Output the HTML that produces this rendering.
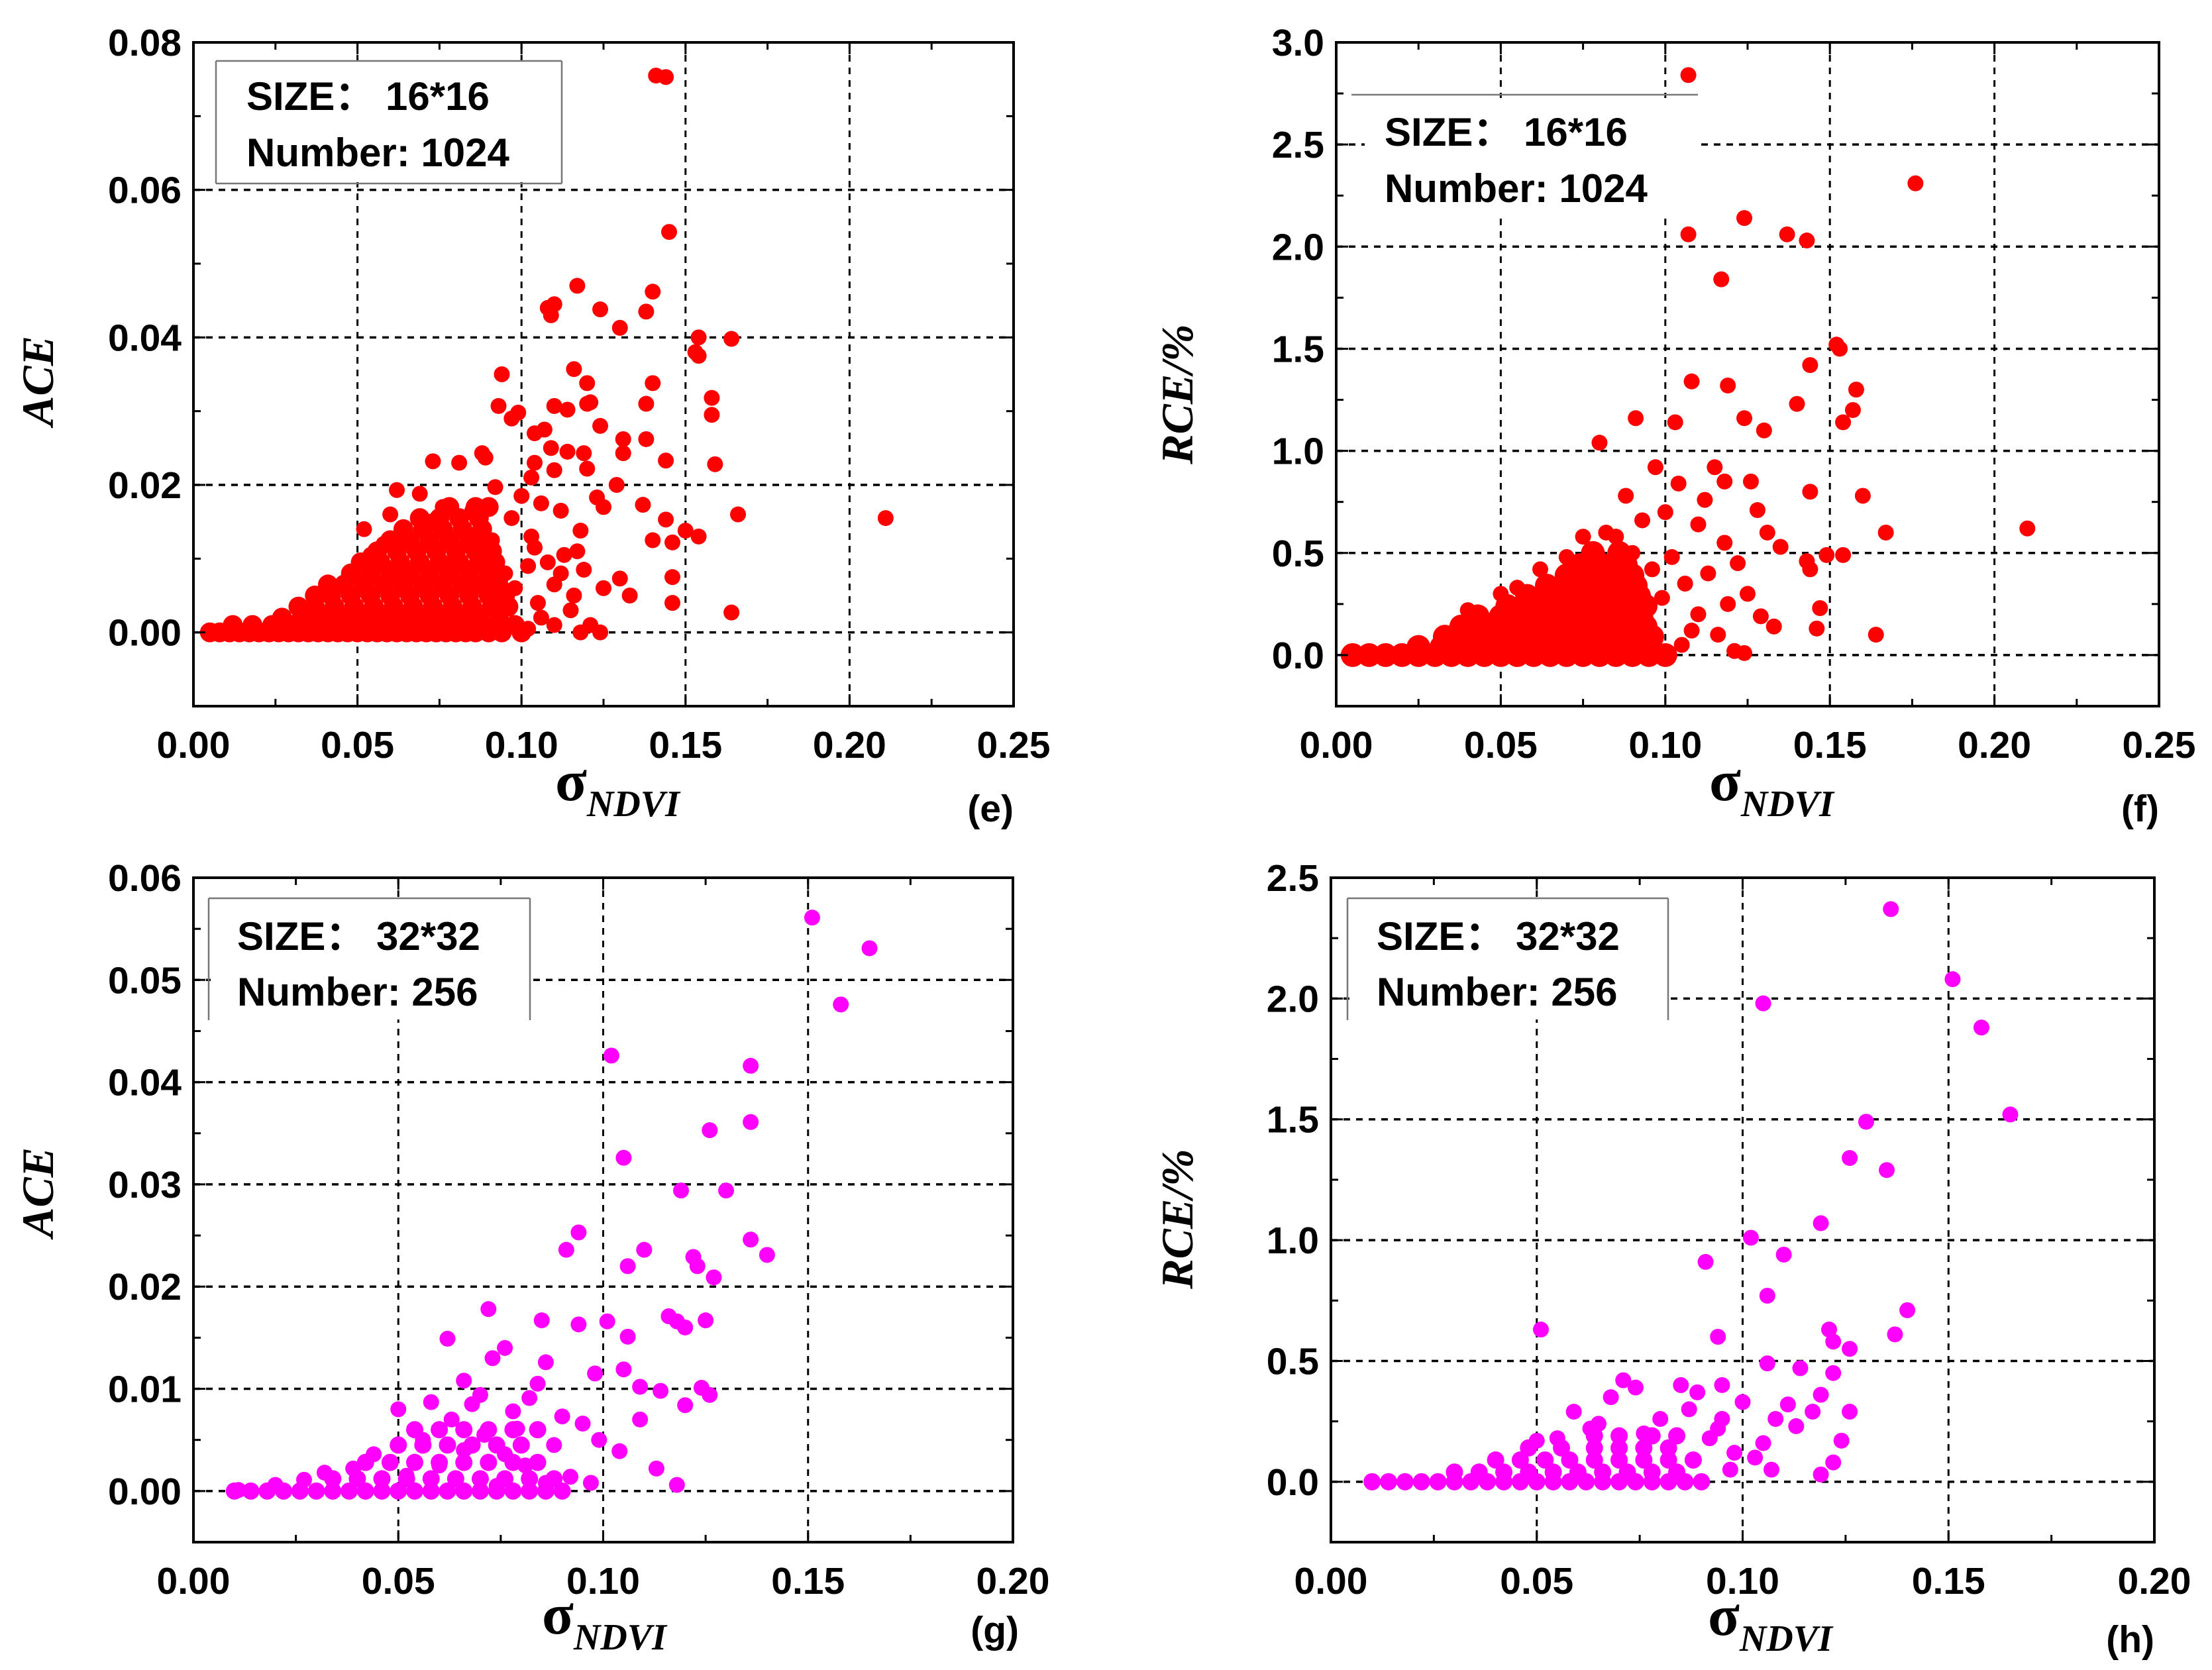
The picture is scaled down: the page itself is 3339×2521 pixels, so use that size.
<!DOCTYPE html>
<html><head><meta charset="utf-8"><style>
html,body{margin:0;padding:0;background:#fff;}
svg{display:block;}
.tk{font-family:"Liberation Sans",Arial,sans-serif;font-weight:bold;font-size:57px;fill:#000;}
.lg{font-family:"Liberation Sans",Arial,"Noto Sans CJK SC",sans-serif;font-weight:bold;font-size:60px;fill:#000;}
.at{font-family:"Liberation Serif","Times New Roman",serif;font-weight:bold;font-style:italic;font-size:68px;fill:#000;}
</style></head>
<body>
<svg id="chart" width="3339" height="2521" viewBox="0 0 3339 2521" xmlns="http://www.w3.org/2000/svg"></svg>
<script>
// ---------- DATA ----------
const outliersE = [[0.141,0.0755],[0.144,0.0753],[0.145,0.0543],[0.117,0.047],[0.110,0.0445],[0.108,0.044],[0.109,0.043],[0.124,0.0438],[0.140,0.0462],[0.138,0.0435],[0.130,0.0413],[0.154,0.040],[0.164,0.0398],[0.153,0.038],[0.154,0.0375],[0.094,0.035],[0.116,0.0357],[0.120,0.0338],[0.140,0.0338],[0.093,0.0307],[0.158,0.0318],[0.110,0.0307],[0.120,0.031],[0.121,0.0312],[0.114,0.0302],[0.138,0.031],[0.099,0.0298],[0.097,0.029],[0.124,0.028],[0.107,0.0275],[0.104,0.027],[0.158,0.0295],[0.131,0.0262],[0.138,0.0262],[0.088,0.0243],[0.089,0.0237],[0.073,0.0232],[0.081,0.023],[0.114,0.0245],[0.109,0.025],[0.131,0.0243],[0.119,0.0243],[0.144,0.0233],[0.159,0.0228],[0.104,0.023],[0.110,0.022],[0.120,0.0222],[0.103,0.021],[0.129,0.020],[0.062,0.0193],[0.069,0.0188],[0.092,0.0197],[0.123,0.0183],[0.125,0.017],[0.137,0.0173],[0.166,0.016],[0.211,0.0155],[0.060,0.016],[0.144,0.0153],[0.150,0.0138],[0.154,0.013],[0.140,0.0125],[0.146,0.0122],[0.103,0.013],[0.118,0.0138],[0.117,0.011],[0.130,0.0073],[0.146,0.0075],[0.125,0.006],[0.133,0.005],[0.146,0.004],[0.164,0.0027],[0.052,0.014],[0.054,0.0105],[0.100,0.0185],[0.106,0.0175],[0.112,0.0165],[0.097,0.0155],[0.085,0.0165],[0.083,0.0135],[0.076,0.017],[0.072,0.015],[0.065,0.013],[0.058,0.012],[0.091,0.0125],[0.104,0.0115],[0.108,0.0095],[0.113,0.0105],[0.119,0.0085],[0.110,0.0065],[0.105,0.004],[0.115,0.003],[0.121,0.001],[0.124,0.0],[0.118,0.0],[0.110,0.001],[0.102,0.0005],[0.094,0.0015],[0.089,0.0005],[0.095,0.008],[0.098,0.006],[0.087,0.011],[0.080,0.01],[0.102,0.009],[0.112,0.008],[0.116,0.005],[0.106,0.002]];
const clusterE = [
 [0.000,[0.005,0.008,0.011,0.014,0.017,0.020,0.023,0.026,0.029,0.032,0.035,0.038,0.041,0.044,0.047,0.050,0.053,0.056,0.059,0.062,0.065,0.068,0.071,0.074,0.077,0.080,0.083,0.086,0.090,0.094,0.100]],
 [0.001,[0.012,0.018,0.024,0.030,0.036,0.042,0.048,0.054,0.060,0.066,0.072,0.078,0.084,0.092,0.098]],
 [0.002,[0.027,0.033,0.039,0.045,0.051,0.057,0.063,0.069,0.075,0.081,0.087,0.093]],
 [0.0035,[0.032,0.037,0.043,0.049,0.055,0.061,0.067,0.073,0.079,0.085,0.091,0.096]],
 [0.005,[0.037,0.042,0.048,0.054,0.060,0.066,0.072,0.078,0.084,0.090,0.095]],
 [0.0065,[0.041,0.046,0.052,0.058,0.064,0.070,0.076,0.082,0.088,0.093]],
 [0.008,[0.048,0.054,0.060,0.066,0.072,0.078,0.084,0.090]],
 [0.0095,[0.051,0.057,0.063,0.069,0.075,0.081,0.087,0.092]],
 [0.011,[0.056,0.062,0.068,0.074,0.080,0.086,0.091]],
 [0.0125,[0.060,0.066,0.072,0.078,0.084,0.089]],
 [0.014,[0.064,0.070,0.076,0.082,0.088]],
 [0.0155,[0.069,0.075,0.081,0.087]],
 [0.017,[0.078,0.086,0.090]]
];
const outliersF = [[0.107,2.84],[0.176,2.31],[0.107,2.06],[0.124,2.14],[0.137,2.06],[0.143,2.03],[0.117,1.84],[0.152,1.52],[0.153,1.50],[0.144,1.42],[0.158,1.30],[0.108,1.34],[0.119,1.32],[0.140,1.23],[0.157,1.20],[0.154,1.14],[0.124,1.16],[0.130,1.10],[0.091,1.16],[0.103,1.14],[0.080,1.04],[0.115,0.92],[0.118,0.85],[0.144,0.80],[0.160,0.78],[0.128,0.71],[0.110,0.64],[0.167,0.60],[0.210,0.62],[0.135,0.53],[0.149,0.49],[0.154,0.49],[0.143,0.46],[0.144,0.42],[0.147,0.23],[0.129,0.19],[0.133,0.14],[0.146,0.13],[0.164,0.10],[0.097,0.92],[0.104,0.84],[0.112,0.76],[0.100,0.70],[0.093,0.66],[0.088,0.78],[0.085,0.58],[0.118,0.55],[0.122,0.45],[0.113,0.40],[0.106,0.35],[0.102,0.48],[0.096,0.42],[0.125,0.30],[0.119,0.25],[0.110,0.20],[0.116,0.10],[0.121,0.02],[0.124,0.01],[0.105,0.05],[0.099,0.28],[0.094,0.18],[0.090,0.50],[0.082,0.60],[0.075,0.58],[0.070,0.48],[0.062,0.42],[0.055,0.33],[0.050,0.30],[0.040,0.22],[0.108,0.12],[0.131,0.60],[0.126,0.85]];
const clusterF = [
 [0.00,[0.005,0.010,0.015,0.020,0.025,0.030,0.035,0.040,0.045,0.050,0.055,0.060,0.065,0.070,0.075,0.080,0.085,0.090,0.095,0.100]],
 [0.04,[0.025,0.032,0.039,0.046,0.053,0.060,0.067,0.074,0.081,0.088,0.095]],
 [0.09,[0.033,0.040,0.047,0.054,0.061,0.068,0.075,0.082,0.089,0.096]],
 [0.14,[0.038,0.045,0.052,0.059,0.066,0.073,0.080,0.087,0.094]],
 [0.19,[0.043,0.050,0.057,0.064,0.071,0.078,0.085,0.092]],
 [0.24,[0.052,0.059,0.066,0.073,0.080,0.087,0.094]],
 [0.29,[0.058,0.065,0.072,0.079,0.086,0.092]],
 [0.34,[0.064,0.071,0.078,0.085,0.091]],
 [0.39,[0.070,0.077,0.084,0.090]],
 [0.44,[0.074,0.081,0.088]],
 [0.50,[0.078,0.086]]
];
const outliersG = [[0.151,0.0561],[0.165,0.0531],[0.158,0.0476],[0.102,0.0426],[0.136,0.0416],[0.105,0.0326],[0.136,0.0361],[0.126,0.0353],[0.130,0.0294],[0.119,0.0294],[0.094,0.0253],[0.091,0.0236],[0.110,0.0236],[0.136,0.0246],[0.140,0.0231],[0.122,0.0229],[0.106,0.022],[0.123,0.022],[0.127,0.0209],[0.072,0.0178],[0.062,0.0149],[0.085,0.0167],[0.094,0.0163],[0.101,0.0166],[0.116,0.0171],[0.118,0.0166],[0.120,0.016],[0.106,0.0151],[0.125,0.0167],[0.076,0.014],[0.073,0.013],[0.086,0.0126],[0.105,0.0119],[0.098,0.0115],[0.109,0.0102],[0.114,0.0098],[0.124,0.0101],[0.120,0.0084],[0.126,0.0094],[0.066,0.0108],[0.070,0.0094],[0.058,0.0087],[0.050,0.0080],[0.082,0.0091],[0.090,0.0073],[0.079,0.0061],[0.095,0.0066],[0.099,0.005],[0.104,0.0039],[0.113,0.0022],[0.118,0.0006],[0.092,0.0014],[0.097,0.0008],[0.109,0.007],[0.076,0.0036],[0.071,0.0055],[0.063,0.007],[0.056,0.005],[0.044,0.0036],[0.039,0.0022],[0.032,0.0018],[0.027,0.0011],[0.020,0.0006],[0.011,0.0001],[0.068,0.0085],[0.078,0.0078],[0.084,0.0105],[0.088,0.0045],[0.060,0.0025],[0.052,0.0015],[0.066,0.004],[0.081,0.0025],[0.086,0.0008],[0.074,0.0005]];
const clusterG = [
 [0.000,[0.010,0.014,0.018,0.022,0.026,0.030,0.034,0.038,0.042,0.046,0.050,0.054,0.058,0.062,0.066,0.070,0.074,0.078,0.082,0.086,0.090]],
 [0.0012,[0.034,0.040,0.046,0.052,0.058,0.064,0.070,0.076,0.082,0.088]],
 [0.0028,[0.042,0.048,0.054,0.060,0.066,0.072,0.078,0.084]],
 [0.0045,[0.050,0.056,0.062,0.068,0.074,0.080]],
 [0.006,[0.054,0.060,0.066,0.072,0.078,0.084]]
];
const outliersH = [[0.136,2.37],[0.151,2.08],[0.158,1.88],[0.105,1.98],[0.165,1.52],[0.130,1.49],[0.126,1.34],[0.135,1.29],[0.119,1.07],[0.102,1.01],[0.110,0.94],[0.091,0.91],[0.106,0.77],[0.140,0.71],[0.094,0.60],[0.051,0.63],[0.137,0.61],[0.121,0.63],[0.122,0.58],[0.126,0.55],[0.106,0.49],[0.114,0.47],[0.122,0.45],[0.119,0.36],[0.117,0.29],[0.095,0.40],[0.100,0.33],[0.108,0.26],[0.113,0.23],[0.126,0.29],[0.124,0.17],[0.074,0.39],[0.068,0.35],[0.059,0.29],[0.089,0.37],[0.095,0.26],[0.105,0.16],[0.107,0.05],[0.119,0.03],[0.122,0.08],[0.097,0.05],[0.071,0.42],[0.085,0.40],[0.087,0.30],[0.080,0.26],[0.076,0.20],[0.092,0.18],[0.098,0.12],[0.094,0.22],[0.111,0.32],[0.103,0.10],[0.050,0.17],[0.055,0.18],[0.063,0.22],[0.065,0.24]];
const clusterH = [
 [0.00,[0.010,0.014,0.018,0.022,0.026,0.030,0.034,0.038,0.042,0.046,0.050,0.054,0.058,0.062,0.066,0.070,0.074,0.078,0.082,0.086,0.090]],
 [0.04,[0.030,0.036,0.042,0.048,0.054,0.060,0.066,0.072,0.078,0.084]],
 [0.09,[0.040,0.046,0.052,0.058,0.064,0.070,0.076,0.082,0.088]],
 [0.14,[0.048,0.056,0.064,0.070,0.076,0.082]],
 [0.19,[0.064,0.070,0.078,0.084]]
];
const yTicksE = [0,0.02,0.04,0.06,0.08];
const yLabelsE = ["0.00","0.02","0.04","0.06","0.08"];
const yTicksF = [0,0.5,1,1.5,2,2.5,3];
const yLabelsF = ["0.0","0.5","1.0","1.5","2.0","2.5","3.0"];
const yTicksG = [0,0.01,0.02,0.03,0.04,0.05,0.06];
const yLabelsG = ["0.00","0.01","0.02","0.03","0.04","0.05","0.06"];
const yTicksH = [0,0.5,1,1.5,2,2.5];
const yLabelsH = ["0.0","0.5","1.0","1.5","2.0","2.5"];
const xTicksTop = [0,0.05,0.10,0.15,0.20,0.25];
const xLabelsTop = ["0.00","0.05","0.10","0.15","0.20","0.25"];
const xTicksBot = [0,0.05,0.10,0.15,0.20];
const xLabelsBot = ["0.00","0.05","0.10","0.15","0.20"];

// ---------- DRAW ----------
const NS="http://www.w3.org/2000/svg";
const svg=document.getElementById('chart');
function mk(tag,attrs,parent){const e=document.createElementNS(NS,tag);for(const k in attrs)e.setAttribute(k,attrs[k]);(parent||svg).appendChild(e);return e;}

function panel(cfg){
 const g=mk('g',{});
 
 
 const {L,R,T,B,x0,x1,y0,y1}=cfg;
 const sx=v=>L+(v-x0)/(x1-x0)*(R-L);
 const sy=v=>B-(v-y0)/(y1-y0)*(B-T);
 cfg.xt.forEach(v=>{ if(v>x0+1e-9&&v<x1-1e-9){const l=mk('line',{x1:sx(v),x2:sx(v),y1:T,y2:B,stroke:'#000','stroke-width':3,'stroke-dasharray':'10,9'},g);
  
  }});
 cfg.yt.forEach(v=>{ if(v<y1-1e-9){const l=mk('line',{x1:L,x2:R,y1:sy(v),y2:sy(v),stroke:'#000','stroke-width':3.5,'stroke-dasharray':'10,9'},g);
  
  }});
 cfg.cl.forEach(r=>r[1].forEach(x=>{const c=mk('circle',{cx:sx(x),cy:sy(r[0]),r:cfg.cr,fill:cfg.color},g);
  
  }));
 cfg.out.forEach(p=>{const c=mk('circle',{cx:sx(p[0]),cy:sy(p[1]),r:12,fill:cfg.color},g);
  
  });
 const fr=mk('rect',{x:L,y:T,width:R-L,height:B-T,fill:'none',stroke:'#000','stroke-width':4},g);
 
 
 const xs=cfg.xt[1]-cfg.xt[0], ys=cfg.yt[1]-cfg.yt[0];
 for(let v=x0;v<=x1+1e-9;v+=xs/2){const maj=Math.abs(Math.round(v/xs)*xs-v)<1e-9;const len=maj?18:11;
  mk('line',{x1:sx(v),x2:sx(v),y1:B,y2:B-len,stroke:'#000','stroke-width':3},g);
  mk('line',{x1:sx(v),x2:sx(v),y1:T,y2:T+len,stroke:'#000','stroke-width':3},g);}
 for(let v=cfg.yt[0]-ys/2;v<=y1+1e-9;v+=ys/2){if(v<y0-1e-9)continue;const maj=Math.abs(Math.round(v/ys)*ys-v)<1e-9;const len=maj?18:11;
  mk('line',{x1:L,x2:L+len,y1:sy(v),y2:sy(v),stroke:'#000','stroke-width':3},g);
  mk('line',{x1:R,x2:R-len,y1:sy(v),y2:sy(v),stroke:'#000','stroke-width':3},g);}
 cfg.xt.forEach((v,i)=>{const t=mk('text',{x:sx(v),y:B+78,'text-anchor':'middle',class:'tk'},g);t.textContent=cfg.xl[i];
  
  });
 cfg.yt.forEach((v,i)=>{const t=mk('text',{x:L-18,y:sy(v)+20,'text-anchor':'end',class:'tk'},g);t.textContent=cfg.yl[i];
  
  });
 const yt=mk('text',{x:0,y:0,'text-anchor':'middle',class:'at',transform:`translate(${cfg.ytx},${cfg.yty}) rotate(-90)`},g);yt.textContent=cfg.ytitle;
 
 
 const xt=mk('text',{x:cfg.xtx,y:cfg.xty,class:'at'},g);
 
 
 const s1=mk('tspan',{style:'font-style:normal;font-size:88px'},xt);s1.textContent='σ';
 const s2=mk('tspan',{dy:24,style:'font-size:56px'},xt);s2.textContent='NDVI';
 const pl=mk('text',{x:cfg.plx,y:cfg.ply,class:'tk','text-anchor':'end'},g);pl.textContent=cfg.plabel;
 
 
 const lg=mk('g',{},g);
 
 
 const b=cfg.box;
 b.lines.forEach(ln=>mk('line',{x1:ln[0],y1:ln[1],x2:ln[2],y2:ln[3],stroke:'#777','stroke-width':2.5},lg));
 if(b.bg) mk('rect',{x:b.bg[0],y:b.bg[1],width:b.bg[2],height:b.bg[3],fill:'#fff'},lg);
 const t1=mk('text',{x:b.tx,y:b.ty1,class:'lg'},lg);t1.textContent=cfg.l1;
 const t2=mk('text',{x:b.tx,y:b.ty2,class:'lg'},lg);t2.textContent=cfg.l2;
}

panel({name:'panel-e',L:292,R:1530,T:64,B:1066,x0:0,x1:0.25,y0:-0.01,y1:0.08,xt:xTicksTop,xl:xLabelsTop,yt:yTicksE,yl:yLabelsE,
 out:outliersE,cl:clusterE,cr:15,color:'#ff0000',ytitle:'ACE',ytx:80,yty:575,xtx:838,xty:1208,plx:1530,ply:1240,plabel:'(e)',
 l1:'SIZE：  16*16',l2:'Number: 1024',box:{lines:[[326,92,848,92],[848,92,848,277],[848,277,326,277],[326,277,326,92]],bg:[328,94,518,181],tx:372,ty1:166,ty2:251}});
panel({name:'panel-f',L:2017,R:3259,T:64,B:1066,x0:0,x1:0.25,y0:-0.25,y1:3.0,xt:xTicksTop,xl:xLabelsTop,yt:yTicksF,yl:yLabelsF,
 out:outliersF,cl:clusterF,cr:18,color:'#ff0000',ytitle:'RCE/%',ytx:1800,yty:595,xtx:2580,xty:1208,plx:3259,ply:1240,plabel:'(f)',
 l1:'SIZE：  16*16',l2:'Number: 1024',box:{lines:[[2040,143,2563,143]],bg:[2060,148,500,180],tx:2090,ty1:220,ty2:305}});
panel({name:'panel-g',L:292,R:1529,T:1325,B:2328,x0:0,x1:0.20,y0:-0.005,y1:0.06,xt:xTicksBot,xl:xLabelsBot,yt:yTicksG,yl:yLabelsG,
 out:outliersG,cl:clusterG,cr:13,color:'#ff00ff',ytitle:'ACE',ytx:80,yty:1800,xtx:818,xty:2466,plx:1538,ply:2480,plabel:'(g)',
 l1:'SIZE：  32*32',l2:'Number: 256',box:{lines:[[315,1356,800,1356],[800,1356,800,1540],[315,1356,315,1540]],bg:[318,1359,480,180],tx:358,ty1:1434,ty2:1518}});
panel({name:'panel-h',L:2009,R:3252,T:1325,B:2328,x0:0,x1:0.20,y0:-0.25,y1:2.5,xt:xTicksBot,xl:xLabelsBot,yt:yTicksH,yl:yLabelsH,
 out:outliersH,cl:clusterH,cr:13,color:'#ff00ff',ytitle:'RCE/%',ytx:1800,yty:1840,xtx:2578,xty:2468,plx:3252,ply:2494,plabel:'(h)',
 l1:'SIZE：  32*32',l2:'Number: 256',box:{lines:[[2034,1356,2518,1356],[2518,1356,2518,1540],[2034,1356,2034,1540]],bg:[2037,1359,479,180],tx:2078,ty1:1434,ty2:1518}});
</script>
</body></html>
